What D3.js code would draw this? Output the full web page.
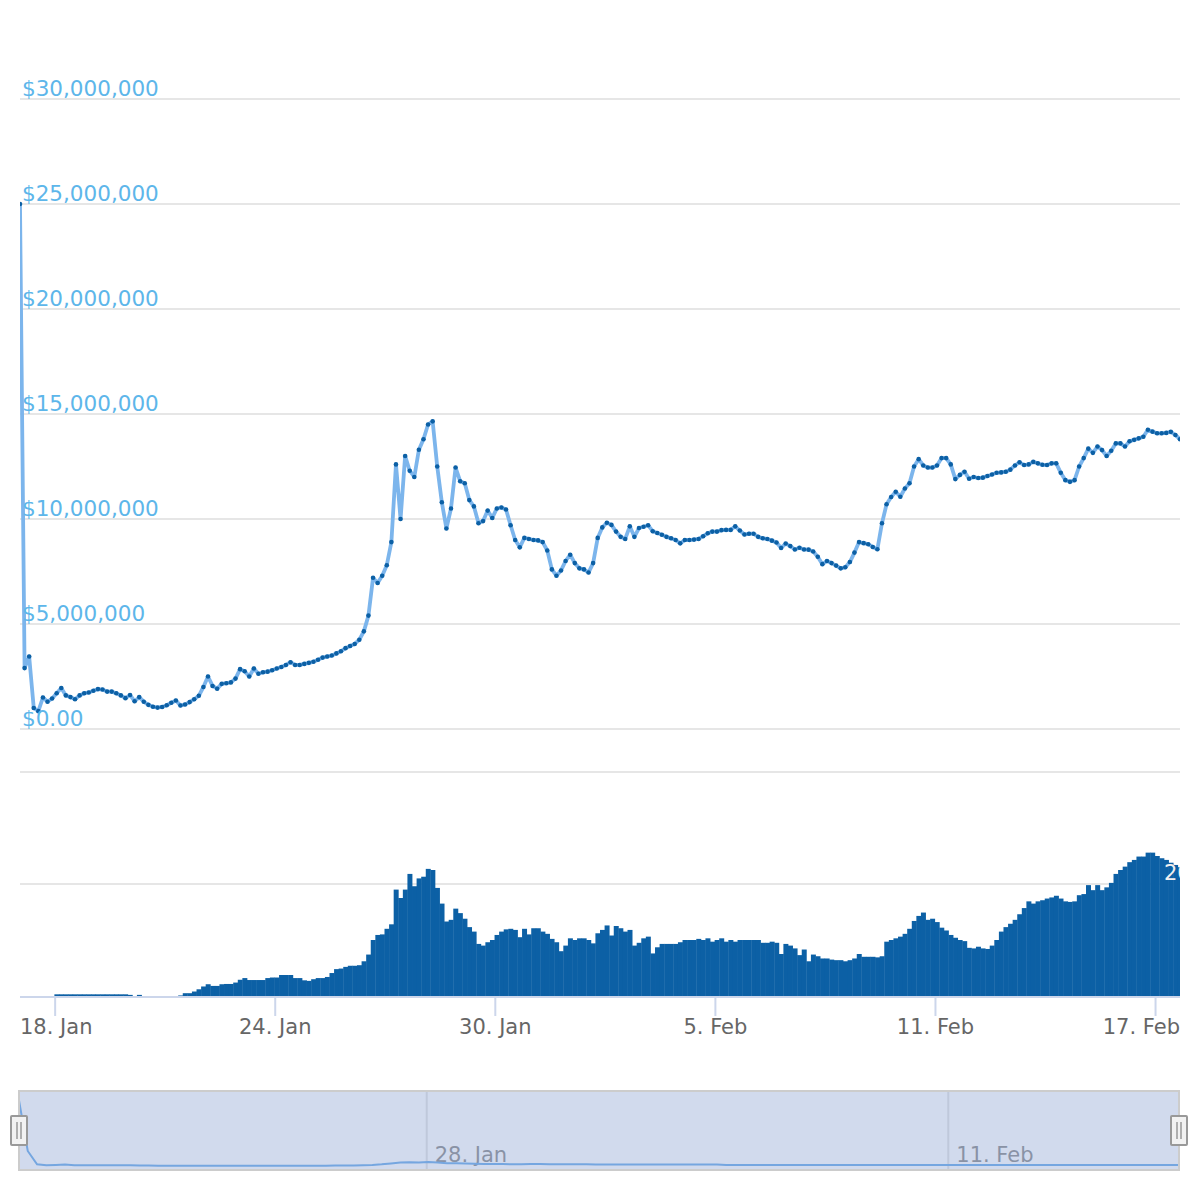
<!DOCTYPE html>
<html>
<head>
<meta charset="utf-8">
<script src="https://cdn.jsdelivr.net/npm/d3@7"></script>
<style>
	body { margin: 0; background: #fff; }
	text { font-family: "DejaVu Sans", sans-serif; }
</style>
</head>
<body>
<svg id="chart" width="1200" height="1200"></svg>
<script>

	// 3-hour samples starting 17 Jan 2018 01:00 UTC
	var startTime = Date.UTC(2018, 0, 17, 1);
	var stepMs = 3 * 3600 * 1000;

	// price in millions of dollars
	var price = [
		25.0, 2.9, 3.45, 1.0, 0.85, 1.5, 1.3, 1.45, 1.7, 1.95,
		1.6, 1.52, 1.42, 1.6, 1.7, 1.74, 1.82, 1.9, 1.88, 1.78,
		1.78, 1.7, 1.6, 1.47, 1.62, 1.32, 1.52, 1.3, 1.15, 1.06,
		1.02, 1.05, 1.13, 1.25, 1.36, 1.12, 1.17, 1.28, 1.42, 1.58,
		2.0, 2.5, 2.05, 1.92, 2.15, 2.18, 2.22, 2.4, 2.85, 2.75,
		2.5, 2.88, 2.63, 2.7, 2.73, 2.8, 2.88, 2.95, 3.05, 3.18,
		3.05, 3.05, 3.1, 3.15, 3.2, 3.3, 3.4, 3.45, 3.5, 3.6,
		3.7, 3.85, 3.95, 4.05, 4.25, 4.65, 5.4, 7.2, 6.95, 7.3,
		7.8, 8.9, 12.6, 10.0, 13.0, 12.3, 12.0, 13.3, 13.8, 14.5,
		14.65, 12.5, 10.8, 9.55, 10.5, 12.45, 11.8, 11.7, 10.9, 10.6,
		9.8, 9.9, 10.4, 10.05, 10.5, 10.55, 10.45, 9.7, 9.0, 8.65,
		9.1, 9.05, 9.0, 8.98, 8.9, 8.5, 7.6, 7.3, 7.55, 8.0,
		8.3, 7.9, 7.65, 7.6, 7.45, 7.9, 9.1, 9.6, 9.82, 9.72,
		9.4, 9.15, 9.05, 9.65, 9.15, 9.57, 9.63, 9.7, 9.42, 9.33,
		9.25, 9.15, 9.08, 9.0, 8.84, 9.0, 9.0, 9.02, 9.05, 9.18,
		9.32, 9.4, 9.4, 9.47, 9.48, 9.48, 9.65, 9.45, 9.26, 9.3,
		9.3, 9.15, 9.08, 9.05, 8.97, 8.88, 8.62, 8.83, 8.71, 8.55,
		8.63, 8.55, 8.54, 8.45, 8.2, 7.85, 8.0, 7.9, 7.78, 7.65,
		7.7, 7.95, 8.4, 8.9, 8.85, 8.8, 8.67, 8.56, 9.8, 10.7,
		11.05, 11.3, 11.06, 11.45, 11.7, 12.5, 12.85, 12.55, 12.45, 12.45,
		12.55, 12.9, 12.9, 12.6, 11.9, 12.1, 12.25, 11.92, 12.0, 11.95,
		11.97, 12.05, 12.12, 12.2, 12.22, 12.25, 12.35, 12.55, 12.7, 12.57,
		12.6, 12.72, 12.65, 12.58, 12.57, 12.65, 12.65, 12.2, 11.85, 11.77,
		11.85, 12.5, 12.9, 13.35, 13.15, 13.45, 13.28, 13.0, 13.25, 13.6,
		13.6, 13.45, 13.7, 13.77, 13.84, 13.92, 14.25, 14.16, 14.08, 14.08,
		14.1, 14.15, 14.0, 13.8
	];

	// volume, same sampling
	var volume = [
		0, 0, 0, 0, 0, 0, 0, 0, 0.3, 0.3,
		0.3, 0.3, 0.3, 0.3, 0.3, 0.3, 0.3, 0.3, 0.3, 0.3,
		0.3, 0.3, 0.3, 0.3, 0.2, 0, 0.2, 0, 0, 0,
		0, 0, 0, 0, 0, 0.1, 0.5, 0.5, 0.8, 1.2,
		1.7, 2.1, 1.8, 1.8, 2.1, 2.15, 2.15, 2.4, 2.9, 3.2,
		2.85, 2.85, 2.85, 2.85, 3.2, 3.3, 3.3, 3.75, 3.75, 3.75,
		3.2, 3.2, 2.8, 2.7, 3.0, 3.2, 3.2, 3.4, 4.1, 4.8,
		4.9, 5.2, 5.4, 5.4, 5.5, 6.2, 7.4, 10.0, 10.9, 11.0,
		12.0, 12.8, 19.0, 17.5, 19.0, 21.8, 19.6, 21.0, 21.3, 22.7,
		22.5, 19.3, 16.5, 13.3, 13.6, 15.6, 14.8, 13.8, 12.3, 11.5,
		9.3, 9.0, 9.6, 10.0, 10.9, 11.5, 11.9, 12.0, 11.8, 10.5,
		12.0, 11.0, 12.1, 12.1, 11.5, 11.1, 10.2, 9.6, 8.0, 9.0,
		10.3, 10.0, 10.3, 10.3, 10.0, 9.4, 11.2, 11.8, 12.6, 10.8,
		12.5, 12.1, 11.5, 11.8, 9.0, 9.5, 10.3, 10.6, 7.6, 8.7,
		9.3, 9.3, 9.3, 9.3, 9.6, 10.0, 10.0, 10.0, 10.2, 10.0,
		10.3, 9.7, 10.0, 10.3, 9.7, 10.0, 9.7, 10.0, 10.0, 10.0,
		10.0, 10.0, 9.5, 9.5, 9.7, 9.5, 7.5, 9.3, 9.0, 8.5,
		7.3, 8.3, 6.2, 7.4, 7.1, 6.7, 6.7, 6.5, 6.4, 6.4,
		6.2, 6.4, 6.7, 7.5, 7.0, 7.0, 7.0, 6.9, 7.1, 9.7,
		10.0, 10.3, 10.6, 11.1, 12.0, 13.4, 14.3, 14.9, 13.6, 13.8,
		13.2, 12.2, 11.7, 10.9, 10.4, 10.0, 9.8, 8.6, 8.5, 8.8,
		8.5, 8.4, 9.0, 10.0, 11.5, 12.3, 12.9, 13.6, 14.6, 15.7,
		16.9, 16.5, 16.9, 17.1, 17.4, 17.6, 17.9, 17.4, 16.9, 16.8,
		16.9, 18.0, 18.2, 19.8, 18.9, 19.8, 18.9, 19.4, 20.2, 21.8,
		22.5, 23.1, 23.9, 24.3, 24.9, 24.9, 25.6, 25.6, 25.0, 24.6,
		24.3, 23.8, 23.4, 23.0
	];

	// navigator series, 6-hour samples
	var navStepMs = 6 * 3600 * 1000;
	var navValues = [
		25, 6.0, 1.3, 1.0, 1.1, 1.2, 1.0, 1.0, 1.0, 1.0,
		1.0, 1.0, 0.95, 0.9, 0.9, 0.8, 0.8, 0.8, 0.8, 0.8,
		0.8, 0.8, 0.8, 0.8, 0.8, 0.8, 0.8, 0.8, 0.8, 0.8,
		0.8, 0.8, 0.8, 0.8, 0.85, 0.85, 0.9, 1.0, 1.1, 1.3,
		1.6, 1.9, 2.0, 1.9, 2.1, 1.9, 1.7, 1.7, 1.6, 1.5,
		1.4, 1.4, 1.4, 1.3, 1.3, 1.4, 1.4, 1.3, 1.3, 1.3,
		1.3, 1.3, 1.2, 1.2, 1.2, 1.2, 1.2, 1.2, 1.2, 1.2,
		1.2, 1.2, 1.2, 1.2, 1.2, 1.2, 1.1, 1.1, 1.1, 1.1,
		1.1, 1.1, 1.1, 1.1, 1.1, 1.1, 1.1, 1.1, 1.1, 1.1,
		1.1, 1.1, 1.1, 1.1, 1.1, 1.1, 1.1, 1.1, 1.1, 1.1,
		1.1, 1.1, 1.1, 1.1, 1.1, 1.1, 1.1, 1.1, 1.1, 1.1,
		1.1, 1.1, 1.1, 1.1, 1.1, 1.1, 1.1, 1.1, 1.1, 1.1,
		1.1, 1.1, 1.1, 1.1, 1.1, 1.1, 1.1
	];

	var priceTicks = [0, 5, 10, 15, 20, 25, 30];
	var volumeTicks = [20, 40];
	var dateTicks = ["2018-01-18", "2018-01-24", "2018-01-30", "2018-02-05", "2018-02-11", "2018-02-17"];
	var navDateTicks = ["2018-01-28", "2018-02-11"];

	var left = 20, right = 1180;
	var priceData = price.map(function (v, i) { return {t: new Date(startTime + i * stepMs), v: v}; });
	var volumeData = volume.map(function (v, i) { return {t: new Date(startTime + i * stepMs), v: v}; });
	var navData = navValues.map(function (v, i) { return {t: new Date(startTime + i * navStepMs), v: v}; });

	var x = d3.scaleUtc()
		.domain([priceData[0].t, priceData[priceData.length - 1].t])
		.range([left, right]);
	var y = d3.scaleLinear().domain([0, 30]).range([729, 99]);
	var yVol = d3.scaleLinear().domain([0, 40]).range([996, 772]);

	var xNav = d3.scaleUtc()
		.domain([new Date(Date.UTC(2018, 0, 28)), new Date(Date.UTC(2018, 1, 11))])
		.range([426.7, 948.3]);
	var yNav = d3.scaleLinear().domain([0, 25]).range([1168, 1097]);

	var svg = d3.select("#chart");
	var fmtDay = d3.utcFormat("%-d. %b");
	var fmtMoney = function (d) { return d === 0 ? "$0.00" : "$" + d3.format(",")(d * 1e6); };

	svg.append("clipPath").attr("id", "plotClip")
		.append("rect").attr("x", left).attr("y", 0).attr("width", right - left).attr("height", 1000);
	svg.append("clipPath").attr("id", "navClip")
		.append("rect").attr("x", 19).attr("y", 1091).attr("width", 1160).attr("height", 79);

	// gridlines
	svg.append("g").selectAll("line")
		.data(priceTicks).enter().append("line")
		.attr("x1", left).attr("x2", right)
		.attr("y1", function (d) { return y(d); })
		.attr("y2", function (d) { return y(d); })
		.style("stroke", "#e6e6e6").style("stroke-width", 2);

	svg.append("g").selectAll("line")
		.data(volumeTicks).enter().append("line")
		.attr("x1", left).attr("x2", right)
		.attr("y1", function (d) { return yVol(d); })
		.attr("y2", function (d) { return yVol(d); })
		.style("stroke", "#e6e6e6").style("stroke-width", 2);

	// volume bars
	var barW = x(new Date(startTime + stepMs)) - x(new Date(startTime));
	svg.append("g").attr("clip-path", "url(#plotClip)")
		.selectAll("rect")
		.data(volumeData.filter(function (d) { return d.v > 0; }))
		.enter().append("rect")
		.attr("x", function (d) { return x(d.t) - barW / 2; })
		.attr("width", barW + 0.4)
		.attr("y", function (d) { return yVol(d.v); })
		.attr("height", function (d) { return yVol(0) - yVol(d.v); })
		.style("fill", "#0c60a5");

	// volume axis label, cut by the plot edge
	svg.append("g").attr("clip-path", "url(#plotClip)")
		.append("text")
		.attr("x", 1164).attr("y", yVol(20) - 4)
		.style("font-size", "21px").style("fill", "#f0f0f0")
		.text("20");

	// x axis
	svg.append("line")
		.attr("x1", left).attr("x2", right).attr("y1", 997).attr("y2", 997)
		.style("stroke", "#ccd6eb").style("stroke-width", 2);

	var ticks = svg.append("g").selectAll("g")
		.data(dateTicks).enter().append("g");
	ticks.append("line")
		.attr("x1", function (d) { return x(new Date(d)); })
		.attr("x2", function (d) { return x(new Date(d)); })
		.attr("y1", 997).attr("y2", 1016)
		.style("stroke", "#ccd6eb").style("stroke-width", 2);
	ticks.append("text")
		.attr("x", function (d) { return x(new Date(d)); })
		.attr("y", 1034)
		.attr("text-anchor", "middle")
		.style("font-size", "21px").style("fill", "#666")
		.text(function (d) { return fmtDay(new Date(d)); })
		.each(function () {
			var box = this.getBBox();
			if (box.x + box.width > right) d3.select(this).attr("x", right - box.width / 2);
			if (box.x < left) d3.select(this).attr("x", left + box.width / 2);
		});

	// price line and markers
	var line = d3.line()
		.x(function (d) { return x(d.t); })
		.y(function (d) { return y(d.v); });

	var priceG = svg.append("g").attr("clip-path", "url(#plotClip)");
	priceG.append("path")
		.datum(priceData)
		.attr("d", line)
		.style("fill", "none")
		.style("stroke", "#7cb5ec")
		.style("stroke-width", 3.8)
		.style("stroke-linejoin", "round");
	priceG.selectAll("circle")
		.data(priceData).enter().append("circle")
		.attr("cx", function (d) { return x(d.t); })
		.attr("cy", function (d) { return y(d.v); })
		.attr("r", 2.3)
		.style("fill", "#0c60a5");

	// y labels drawn on top
	svg.append("g").selectAll("text")
		.data(priceTicks).enter().append("text")
		.attr("x", 22)
		.attr("y", function (d) { return y(d) - 3; })
		.style("font-size", "21.5px").style("fill", "#5db6ea")
		.text(fmtMoney);

	// navigator
	var nav = svg.append("g");
	nav.append("g").attr("clip-path", "url(#navClip)").selectAll("line")
		.data(navDateTicks).enter().append("line")
		.attr("x1", function (d) { return xNav(new Date(d)); })
		.attr("x2", function (d) { return xNav(new Date(d)); })
		.attr("y1", 1091).attr("y2", 1170)
		.style("stroke", "#e6e6e6").style("stroke-width", 2);
	nav.append("g").selectAll("text")
		.data(navDateTicks).enter().append("text")
		.attr("x", function (d) { return xNav(new Date(d)) + 8; })
		.attr("y", 1162)
		.style("font-size", "21px").style("fill", "#999")
		.text(function (d) { return fmtDay(new Date(d)); });

	var navLine = d3.line()
		.x(function (d) { return xNav(d.t); })
		.y(function (d) { return yNav(d.v); });
	nav.append("path")
		.datum(navData)
		.attr("clip-path", "url(#navClip)")
		.attr("d", navLine)
		.style("fill", "none")
		.style("stroke", "#7cb5ec")
		.style("stroke-width", 2);

	nav.append("rect")
		.attr("x", 19).attr("y", 1091).attr("width", 1160).attr("height", 79)
		.style("fill", "rgba(102,133,194,0.3)")
		.style("stroke", "#cccccc").style("stroke-width", 2);

	[19, 1179].forEach(function (hx) {
		var h = nav.append("g");
		h.append("rect")
			.attr("x", hx - 8).attr("y", 1116).attr("width", 16).attr("height", 29)
			.attr("rx", 1)
			.style("fill", "#f2f2f2").style("stroke", "#999").style("stroke-width", 2);
		[-2, 2].forEach(function (dx) {
			h.append("line")
				.attr("x1", hx + dx).attr("x2", hx + dx)
				.attr("y1", 1122).attr("y2", 1139)
				.style("stroke", "#999").style("stroke-width", 1.5);
		});
	});

</script>
</body>
</html>
